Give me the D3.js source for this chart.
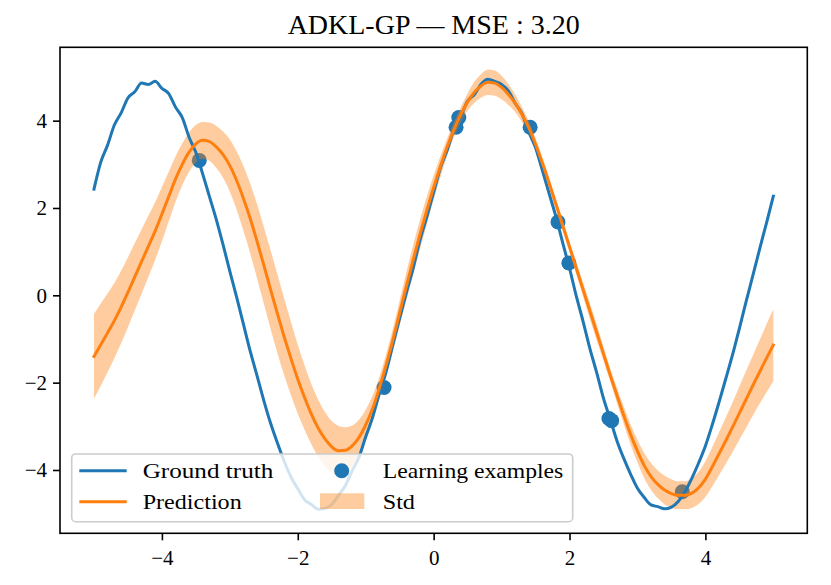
<!DOCTYPE html>
<html><head><meta charset="utf-8">
<script src="https://cdn.jsdelivr.net/npm/d3@7"></script>
<style>body{margin:0;background:#fff} svg{display:block}</style>
</head><body>
<svg id="chart" width="831" height="585"></svg>
<script>
// ---------- data ----------
const titleText = "ADKL-GP — MSE : 3.20";
const xTicks = [-4, -2, 0, 2, 4];
const yTicks = [-4, -2, 0, 2, 4];
const gridStart = -5, gridStep = 0.1;   // sample grid of the curves: -5 .. 5

const groundTruth = [
  2.43, 3.05, 3.44, 3.90, 4.18, 4.52, 4.66, 4.86, 4.83, 4.90,
  4.74, 4.62, 4.31, 4.07, 3.62, 3.27, 2.78, 2.26, 1.74, 1.16,
  0.55, -0.04, -0.66, -1.28, -1.84, -2.41, -2.93, -3.38, -3.80, -4.16,
  -4.43, -4.68, -4.79, -4.90, -4.88, -4.79, -4.58, -4.36, -4.02, -3.71,
  -3.24, -2.80, -2.25, -1.75, -1.13, -0.52, 0.07, 0.63, 1.27, 1.80,
  2.36, 2.92, 3.33, 3.80, 4.10, 4.45, 4.60, 4.84, 4.95, 4.90,
  4.83, 4.68, 4.40, 4.16, 3.74, 3.38, 2.86, 2.33, 1.80, 1.20,
  0.62, -0.02, -0.60, -1.22, -1.77, -2.36, -2.84, -3.34, -3.74, -4.10,
  -4.42, -4.63, -4.80, -4.84, -4.89, -4.85, -4.72, -4.50, -4.19, -3.84,
  -3.45, -2.97, -2.45, -1.91, -1.36, -0.76, -0.14, 0.46, 1.07, 1.66,
  2.27];

const prediction = [
  -1.40, -1.13, -0.86, -0.58, -0.27, 0.07, 0.42, 0.77, 1.12, 1.47,
  1.86, 2.26, 2.66, 3.00, 3.28, 3.47, 3.55, 3.52, 3.40, 3.22,
  2.97, 2.63, 2.22, 1.76, 1.24, 0.69, 0.13, -0.42, -0.95, -1.45,
  -1.92, -2.34, -2.72, -3.04, -3.29, -3.47, -3.56, -3.55, -3.45, -3.26,
  -2.97, -2.60, -2.13, -1.60, -1.02, -0.40, 0.22, 0.82, 1.40, 1.95,
  2.47, 2.95, 3.40, 3.80, 4.14, 4.43, 4.65, 4.80, 4.88, 4.86,
  4.76, 4.60, 4.40, 4.14, 3.84, 3.46, 3.03, 2.57, 2.09, 1.60,
  1.11, 0.62, 0.13, -0.36, -0.85, -1.34, -1.83, -2.30, -2.76, -3.19,
  -3.57, -3.90, -4.15, -4.33, -4.46, -4.54, -4.58, -4.58, -4.53, -4.41,
  -4.21, -3.93, -3.63, -3.33, -3.02, -2.70, -2.38, -2.06, -1.75, -1.44,
  -1.14];

const predStd = [
  0.97, 0.94, 0.90, 0.86, 0.83, 0.80, 0.77, 0.74, 0.70, 0.66,
  0.62, 0.57, 0.52, 0.48, 0.45, 0.43, 0.42, 0.44, 0.48, 0.53,
  0.60, 0.67, 0.74, 0.80, 0.85, 0.88, 0.90, 0.90, 0.88, 0.84,
  0.79, 0.74, 0.69, 0.65, 0.62, 0.59, 0.57, 0.53, 0.47, 0.41,
  0.35, 0.30, 0.26, 0.25, 0.26, 0.29, 0.32, 0.34, 0.34, 0.32,
  0.28, 0.24, 0.20, 0.17, 0.17, 0.20, 0.24, 0.27, 0.29, 0.29,
  0.27, 0.24, 0.20, 0.17, 0.15, 0.14, 0.14, 0.13, 0.12, 0.12,
  0.12, 0.14, 0.16, 0.18, 0.18, 0.16, 0.15, 0.17, 0.20, 0.23,
  0.26, 0.29, 0.31, 0.32, 0.33, 0.33, 0.32, 0.32, 0.34, 0.37,
  0.41, 0.45, 0.49, 0.53, 0.57, 0.61, 0.65, 0.69, 0.73, 0.78,
  0.82];

const learnX = [-3.45, -0.73, 0.33, 0.37, 1.42, 1.83, 1.99, 2.58, 2.62, 3.66];
const learnY = [ 3.09, -2.11, 3.85, 4.07, 3.85, 1.68, 0.74, -2.82, -2.87, -4.50];

const legendLabels = ["Ground truth", "Prediction", "Learning examples", "Std"];

// ---------- layout ----------
const BLUE = "#1f77b4", ORANGE = "#ff7f0e";
const FONT = "'Liberation Serif', 'Times New Roman', serif";
const plot = {left: 60, right: 807.3, top: 47.3, bottom: 533.3};

const svg = d3.select("#chart");
const x = d3.scaleLinear().domain([-5.5, 5.5]).range([plot.left, plot.right]);
const y = d3.scaleLinear().domain([-5.45, 5.68]).range([plot.bottom, plot.top]);

const grid = groundTruth.map((_, i) => +(gridStart + i * gridStep).toFixed(2));
const rows = grid.map((gx, i) => ({x: gx, gt: groundTruth[i], p: prediction[i], s: predStd[i]}));

const data = svg.append("g");

// learning examples (under the std band, as in the reference)
data.selectAll("circle.learn").data(learnX.map((lx, i) => ({x: lx, y: learnY[i]})))
  .join("circle").attr("class", "learn")
  .attr("cx", d => x(d.x)).attr("cy", d => y(d.y)).attr("r", 7.5)
  .attr("fill", BLUE);

// std band
data.append("path").datum(rows)
  .attr("d", d3.area().curve(d3.curveMonotoneX).x(d => x(d.x)).y0(d => y(d.p - d.s)).y1(d => y(d.p + d.s)))
  .attr("fill", ORANGE).attr("fill-opacity", 0.4).attr("stroke", "none");

// ground truth
data.append("path").datum(rows)
  .attr("d", d3.line().curve(d3.curveMonotoneX).x(d => x(d.x)).y(d => y(d.gt)))
  .attr("fill", "none").attr("stroke", BLUE).attr("stroke-width", 3)
  .attr("stroke-linejoin", "round").attr("stroke-linecap", "square");

// prediction
data.append("path").datum(rows)
  .attr("d", d3.line().curve(d3.curveMonotoneX).x(d => x(d.x)).y(d => y(d.p)))
  .attr("fill", "none").attr("stroke", ORANGE).attr("stroke-width", 3)
  .attr("stroke-linejoin", "round").attr("stroke-linecap", "square");

// axes
const xAxis = svg.append("g").attr("transform", `translate(0,${plot.bottom})`)
  .call(d3.axisBottom(x).tickValues(xTicks).tickSize(7).tickPadding(6).tickFormat(d3.format("d")));
const yAxis = svg.append("g").attr("transform", `translate(${plot.left},0)`)
  .call(d3.axisLeft(y).tickValues(yTicks).tickSize(7).tickPadding(6).tickFormat(d3.format("d")));
[xAxis, yAxis].forEach(a => {
  a.select(".domain").remove();
  a.selectAll(".tick line").attr("stroke", "#000").attr("stroke-width", 1.6);
  a.selectAll(".tick text").attr("fill", "#000")
    .style("font-family", FONT).style("font-size", "21px");
});
xAxis.selectAll(".tick text").attr("dy", "0.9em");
yAxis.selectAll(".tick text").attr("dy", "0.33em");

// frame
svg.append("rect")
  .attr("x", plot.left).attr("y", plot.top)
  .attr("width", plot.right - plot.left).attr("height", plot.bottom - plot.top)
  .attr("fill", "none").attr("stroke", "#000").attr("stroke-width", 1.6);

// title
svg.append("text").attr("x", (plot.left + plot.right) / 2).attr("y", 34)
  .attr("text-anchor", "middle")
  .attr("textLength", 292).attr("lengthAdjust", "spacingAndGlyphs")
  .style("font-family", FONT).style("font-size", "27px").text(titleText);

// legend
const lg = svg.append("g");
lg.append("rect").attr("x", 71.7).attr("y", 454).attr("width", 501).attr("height", 67.7)
  .attr("rx", 4).attr("ry", 4)
  .attr("fill", "#fff").attr("fill-opacity", 0.8)
  .attr("stroke", "#cccccc").attr("stroke-width", 1.6);

const rowY = [470.7, 501.7];
const textLen = [130.6, 99, 180.6, 32.3];
lg.append("line").attr("x1", 79.3).attr("x2", 126.7).attr("y1", rowY[0]).attr("y2", rowY[0])
  .attr("stroke", BLUE).attr("stroke-width", 3);
lg.append("line").attr("x1", 79.3).attr("x2", 126.7).attr("y1", rowY[1]).attr("y2", rowY[1])
  .attr("stroke", ORANGE).attr("stroke-width", 3);
lg.append("circle").attr("cx", 341.7).attr("cy", rowY[0]).attr("r", 7.5).attr("fill", BLUE);
lg.append("rect").attr("x", 320).attr("y", 493.3).attr("width", 44.3).attr("height", 15.7)
  .attr("fill", ORANGE).attr("fill-opacity", 0.4);

const labelPos = [[142.7, rowY[0]], [142.7, rowY[1]], [382.7, rowY[0]], [382.7, rowY[1]]];
legendLabels.forEach((t, i) => {
  lg.append("text").attr("x", labelPos[i][0]).attr("y", labelPos[i][1] + 7.6)
    .attr("textLength", textLen[i]).attr("lengthAdjust", "spacingAndGlyphs")
    .style("font-family", FONT).style("font-size", "22px").text(t);
});
</script>
</body></html>
